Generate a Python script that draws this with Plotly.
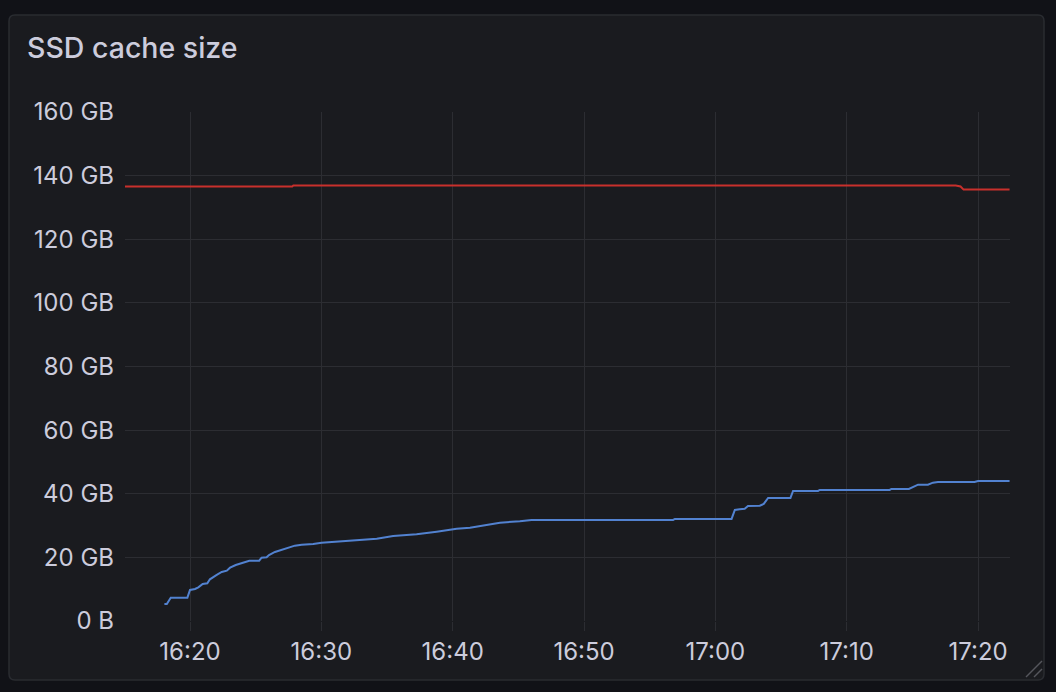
import plotly.graph_objects as go

DAY = "2024-01-01 "

# Blue series (SSD cache used)
used_times = ["16:18:03", "16:18:14", "16:18:32", "16:19:48", "16:20:00", "16:20:23", "16:20:38",
              "16:20:58", "16:21:19", "16:21:31", "16:22:02", "16:22:25", "16:22:48", "16:23:03",
              "16:23:29", "16:24:03", "16:24:31", "16:25:16", "16:25:27", "16:25:50", "16:26:01",
              "16:26:28", "16:26:59", "16:27:29", "16:27:59", "16:28:30", "16:29:23", "16:30:01",
              "16:30:54", "16:32:26", "16:34:13", "16:35:28", "16:37:15", "16:38:47", "16:40:18",
              "16:41:19", "16:42:35", "16:43:36", "16:45:07", "16:46:00", "16:56:47", "16:56:55",
              "17:01:14", "17:01:29", "17:01:51", "17:02:14", "17:02:29", "17:03:23", "17:03:41",
              "17:04:01", "17:05:43", "17:05:55", "17:07:49", "17:07:57", "17:13:16", "17:13:24",
              "17:14:44", "17:15:03", "17:15:26", "17:16:11", "17:16:34", "17:16:57", "17:19:44",
              "17:20:00", "17:22:24"]
used_gb = [5.35, 5.35, 7.33, 7.33, 9.75, 10.06, 10.60,
           11.64, 11.86, 13.11, 14.47, 15.41, 15.82, 16.76,
           17.61, 18.33, 18.96, 18.96, 19.91, 20.03, 20.75,
           21.70, 22.33, 22.96, 23.68, 23.99, 24.21, 24.62,
           24.84, 25.38, 25.88, 26.73, 27.26, 28.08, 29.03,
           29.34, 30.19, 30.91, 31.35, 31.76, 31.76, 32.08,
           32.08, 34.91, 35.13, 35.31, 36.16, 36.26, 36.79,
           38.68, 38.68, 40.88, 40.88, 41.20, 41.20, 41.51,
           41.51, 42.23, 42.86, 42.86, 43.49, 43.71, 43.71,
           44.03, 44.03]

# Red series (SSD cache capacity)
cap_times = ["16:15:03", "16:27:47", "16:27:52", "17:18:18", "17:18:40", "17:18:54", "17:22:24"]
cap_gb = [136.6, 136.6, 136.9, 136.9, 136.6, 135.6, 135.6]

y_ticks = [0, 20, 40, 60, 80, 100, 120, 140, 160]
y_labels = ["0 B", "20 GB", "40 GB", "60 GB", "80 GB", "100 GB", "120 GB", "140 GB", "160 GB"]
x_ticks = ["16:20", "16:30", "16:40", "16:50", "17:00", "17:10", "17:20"]

TEXT = "#ccccdc"
GRID = "#2c2d32"
PANEL = "#1a1b1f"
OUTER = "#111217"

W, H = 1056, 692
L, R, T, B = 125, 1010, 112, 621


def px(x):
    return (x - L) / (R - L)


def py(y):
    return (B - y) / (B - T)


fig = go.Figure()
fig.add_trace(go.Scatter(x=[DAY + t for t in cap_times], y=cap_gb, mode="lines",
                         line=dict(color="#c8302c", width=2), hoverinfo="skip"))
fig.add_trace(go.Scatter(x=[DAY + t for t in used_times], y=used_gb, mode="lines",
                         line=dict(color="#5282d0", width=2), hoverinfo="skip"))

# panel background with rounded corners
x0, x1, y0, y1, r = 9, 1044, 15, 680, 6
path = (f"M {px(x0 + r)} {py(y0)} L {px(x1 - r)} {py(y0)} Q {px(x1)} {py(y0)} {px(x1)} {py(y0 + r)} "
        f"L {px(x1)} {py(y1 - r)} Q {px(x1)} {py(y1)} {px(x1 - r)} {py(y1)} "
        f"L {px(x0 + r)} {py(y1)} Q {px(x0)} {py(y1)} {px(x0)} {py(y1 - r)} "
        f"L {px(x0)} {py(y0 + r)} Q {px(x0)} {py(y0)} {px(x0 + r)} {py(y0)} Z")
shapes = [dict(type="path", path=path, xref="paper", yref="paper", fillcolor=PANEL,
               line=dict(color="#2a2c31", width=1.5), layer="below")]
# resize handle
for a, b in [((1026, 677), (1042, 661)), ((1034, 677), (1042, 669))]:
    shapes.append(dict(type="line", xref="paper", yref="paper", x0=px(a[0]), y0=py(a[1]),
                       x1=px(b[0]), y1=py(b[1]), line=dict(color="#55565c", width=1.5)))

fig.update_layout(
    width=W, height=H,
    margin=dict(l=L, r=W - R, t=T, b=H - B),
    paper_bgcolor=OUTER, plot_bgcolor="rgba(0,0,0,0)",
    showlegend=False,
    font=dict(family="Inter", color=TEXT, size=24),
    shapes=shapes,
    annotations=[dict(text="SSD cache size", xref="paper", yref="paper", x=px(25), y=py(48),
                      xanchor="left", yanchor="middle", showarrow=False,
                      font=dict(family="Inter", size=28.5, color=TEXT, weight=500))],
    xaxis=dict(type="date", range=[DAY + "16:15:03", DAY + "17:22:26"],
               tickvals=[DAY + t for t in x_ticks], ticktext=x_ticks,
               showgrid=True, gridcolor=GRID, gridwidth=1, zeroline=False, showline=False,
               ticks="outside", ticklen=9, tickcolor=GRID, tickwidth=1,
               tickfont=dict(size=24, color=TEXT), ticklabelstandoff=0),
    yaxis=dict(range=[0, 160], tickvals=y_ticks, ticktext=y_labels,
               showgrid=True, gridcolor=GRID, gridwidth=1, zeroline=False, showline=False,
               ticks="", tickfont=dict(size=24, color=TEXT), ticklabelstandoff=10),
)

fig.write_html("out.html", config={"displayModeBar": False},
               post_script="document.body.style.margin='0';document.body.style.background='#111217';document.body.style.overflow='hidden';")
